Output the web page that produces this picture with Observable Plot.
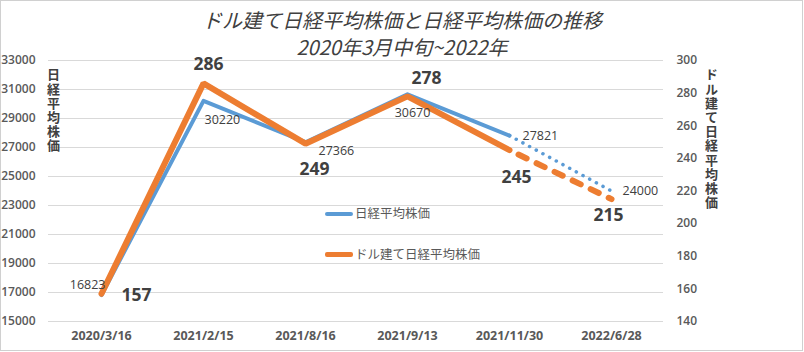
<!DOCTYPE html>
<html>
<head>
<meta charset="utf-8">
<script src="https://cdn.jsdelivr.net/npm/d3@7"></script>
<script src="https://cdn.jsdelivr.net/npm/@observablehq/plot@0.6"></script>
<style>
  html, body { margin: 0; padding: 0; background: #fff; }
  #wrap { position: relative; width: 804px; height: 352px; overflow: hidden; font-family: "Open Sans", "Noto Sans CJK JP", sans-serif; }
  #wrap svg { position: absolute; left: 0; top: 0; }
  .ov { position: absolute; color: #404040; font-family: "Noto Sans CJK JP", sans-serif; white-space: nowrap; }
  .title { left: 0; width: 804px; text-align: center; font-style: italic; font-size: 20px; line-height: 22px; color: #404040; }
  .vtitle { writing-mode: vertical-rl; font-size: 13px; font-weight: bold; letter-spacing: 1.2px; color: #404040; }
  .leg { font-size: 12.5px; color: #595959; line-height: 16px; }
  .sw { position: absolute; border-radius: 2px; }
  #border { position: absolute; left: 0; top: 0; width: 801px; height: 349px; border: 1px solid #d0d0d0; pointer-events: none; }
</style>
</head>
<body>
<div id="wrap"></div>
<script>
// ---- data ----
const dates = ["2020/3/16", "2021/2/15", "2021/8/16", "2021/9/13", "2021/11/30", "2022/6/28"];
const nikkei = [16823, 30220, 27366, 30670, 27821, 24000];          // 日経平均株価 (left axis)
const dollarNikkei = [157, 286, 249, 278, 245, 215];                // ドル建て日経平均株価 (right axis)
const projected = [false, false, false, false, false, true];        // last point is projected
const leftTicks = [15000, 17000, 19000, 21000, 23000, 25000, 27000, 29000, 31000, 33000];
const rightTicks = [140, 160, 180, 200, 220, 240, 260, 280, 300];
const titleText = "ドル建て日経平均株価と日経平均株価の推移";
const subtitleText = "2020年3月中旬~2022年";
const seriesNames = ["日経平均株価", "ドル建て日経平均株価"];

// ---- layout (label offsets in px: [dx, dy, anchor]) ----
const blueLabelPos = [[4, -10, "end"], [1, 19, "start"], [13, 9, "start"], [5, 19, "middle"], [13, 0, "start"], [11, 0, "start"]];
const orangeLabelPos = [[35, 2], [5, -19], [9, 26], [19, -18], [7, 27], [-3, 16]];

// map right-axis values onto the left scale
const L0 = leftTicks[0], L1 = leftTicks[leftTicks.length - 1];
const R0 = rightTicks[0], R1 = rightTicks[rightTicks.length - 1];
const toLeft = v => L0 + (v - R0) * (L1 - L0) / (R1 - R0);
const fromLeft = v => R0 + (v - L0) * (R1 - R0) / (L1 - L0);

const rows = dates.map((d, i) => ({i, date: d, blue: nikkei[i], orange: toLeft(dollarNikkei[i]), proj: projected[i]}));
const lastActual = rows.filter(r => !r.proj).length - 1;
const solid = rows.filter(r => !r.proj);
const proj = rows.filter((r, i) => i >= lastActual);

const BLUE = "#5B9BD5", ORANGE = "#ED7D31", TXT = "#404040", AX = "#595959";

const marks = [
  Plot.gridY(leftTicks, {stroke: "#d9d9d9", strokeOpacity: 1}),
  Plot.axisY(leftTicks, {anchor: "left", tickSize: 0, tickPadding: 13, fontSize: 12, fontWeight: 600, fill: AX, label: null, tickFormat: d => String(d)}),
  Plot.axisY(rightTicks.map(toLeft), {anchor: "right", tickSize: 0, tickPadding: 13, fontSize: 12, fontWeight: 600, fill: AX, label: null, tickFormat: d => String(Math.round(fromLeft(d)))}),
  Plot.axisX({tickSize: 0, tickPadding: 10, fontSize: 12.5, fontWeight: "bold", fill: AX, label: null}),
  Plot.line(solid, {x: "date", y: "blue", stroke: BLUE, strokeWidth: 4, strokeLinecap: "round", strokeLinejoin: "round"}),
  Plot.line(proj, {x: "date", y: "blue", stroke: BLUE, strokeWidth: 3.5, strokeLinecap: "round", strokeDasharray: "0.1,7.5"}),
  Plot.line(solid, {x: "date", y: "orange", stroke: ORANGE, strokeWidth: 6, strokeLinecap: "round", strokeLinejoin: "miter"}),
  Plot.line(proj, {x: "date", y: "orange", stroke: ORANGE, strokeWidth: 6, strokeLinecap: "round", strokeDasharray: "9,11", strokeDashoffset: -10})
];
rows.forEach((r, i) => {
  const [dx, dy, anchor] = blueLabelPos[i];
  marks.push(Plot.text([r], {x: "date", y: "blue", text: d => String(nikkei[d.i]), dx, dy, textAnchor: anchor, fontSize: 12.5, fill: TXT, fontFamily: "Open Sans"}));
  const [ox, oy] = orangeLabelPos[i];
  marks.push(Plot.text([r], {x: "date", y: "orange", text: d => String(dollarNikkei[d.i]), dx: ox, dy: oy, fontSize: 17.5, fontWeight: "bold", fill: TXT, fontFamily: "Open Sans"}));
});

const chart = Plot.plot({
  width: 804,
  height: 352,
  marginTop: 60,
  marginBottom: 31,
  marginLeft: 48,
  marginRight: 141,
  x: {type: "point", domain: dates, padding: 0.5},
  y: {domain: [L0, L1]},
  style: {fontFamily: "Open Sans, Noto Sans CJK JP, sans-serif", background: "transparent", overflow: "visible"},
  marks
});

const wrap = document.getElementById("wrap");
wrap.appendChild(chart);

function ov(html, cls, css) {
  const d = document.createElement("div");
  d.className = "ov " + cls;
  d.style.cssText = css;
  d.textContent = html;
  wrap.appendChild(d);
  return d;
}
ov(titleText, "title", "top:9px;");
ov(subtitleText, "title", "top:36px;");
ov(seriesNames[0], "vtitle", "left:44px;top:68px;");
ov("ドル建て" + seriesNames[0], "vtitle", "left:702px;top:68px;");
// legend
const sw1 = document.createElement("div"); sw1.className = "sw"; sw1.style.cssText = `left:325px;top:212px;width:28px;height:4px;background:${BLUE};`; wrap.appendChild(sw1);
ov(seriesNames[0], "leg", "left:355px;top:205px;");
const sw2 = document.createElement("div"); sw2.className = "sw"; sw2.style.cssText = `left:325px;top:252px;width:28px;height:5px;background:${ORANGE};`; wrap.appendChild(sw2);
ov(seriesNames[1], "leg", "left:355px;top:246px;");
const b = document.createElement("div"); b.id = "border"; wrap.appendChild(b);
</script>
</body>
</html>
